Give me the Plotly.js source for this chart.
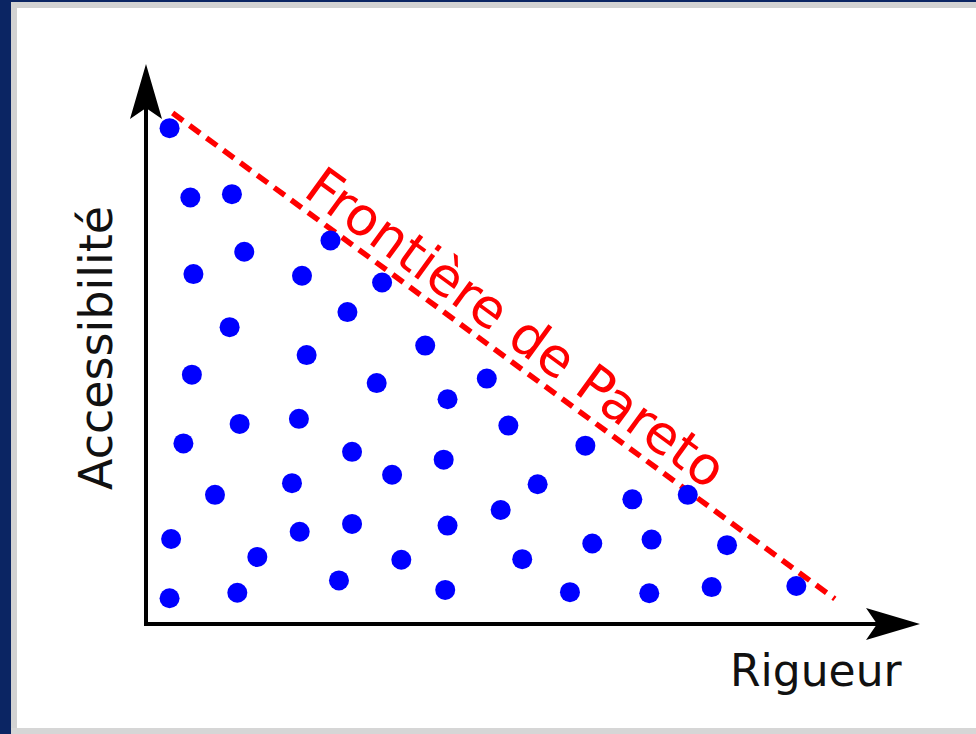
<!DOCTYPE html>
<html>
<head>
<meta charset="utf-8">
<script src="https://cdn.plot.ly/plotly-3.0.1.min.js"></script>
<style>
html,body{margin:0;padding:0;background:#ffffff;}
#wrap{position:relative;width:976px;height:734px;overflow:hidden;}
#chart{position:absolute;left:0;top:0;width:976px;height:734px;}
.b{position:absolute;pointer-events:none;}
</style>
</head>
<body>
<div id="wrap">
<div id="chart"></div>
<div class="b" style="left:11px;top:2px;width:965px;height:6px;background:#d2d2d2;"></div>
<div class="b" style="left:11px;top:2px;width:6px;height:732px;background:#d2d2d2;"></div>
<div class="b" style="left:11px;top:728px;width:965px;height:6px;background:#d6d6d6;"></div>
<div class="b" style="left:0;top:0;width:11px;height:734px;background:#0b2563;"></div>
<div class="b" style="left:0;top:0;width:976px;height:2px;background:#0b2563;"></div>
</div>
<script>
// Rigueur (x) and Accessibilité (y) of each solution, arbitrary units 0-10
const rigueur = [0.28,0.55,1.09,2.37,1.25,0.59,2.00,3.04,2.59,1.06,2.06,3.60,0.57,2.97,1.19,1.96,0.46,2.65,3.17,1.87,0.87,0.30,1.97,2.65,1.42,3.29,2.48,0.28,1.16,4.40,3.89,4.68,5.68,3.84,5.06,6.29,7.01,4.58,3.89,5.77,6.54,7.52,4.86,3.86,5.48,6.51,7.32,8.42];
const accessibilite = [8.87,7.63,7.69,6.86,6.66,6.26,6.23,6.11,5.58,5.31,4.81,4.98,4.46,4.31,3.58,3.67,3.23,3.08,2.67,2.52,2.31,1.52,1.65,1.79,1.20,1.15,0.78,0.46,0.56,4.39,4.02,3.55,3.19,2.94,2.50,2.23,2.31,2.04,1.76,1.44,1.51,1.41,1.16,0.61,0.57,0.55,0.66,0.68];
// Pareto frontier endpoints
const frontX = [0.32, 8.92];
const frontY = [9.14, 0.45];
const labelX = "Rigueur";
const labelY = "Accessibilité";
const labelFront = "Frontière de Pareto";

const W = 976, H = 734, L = 148, R = 58, T = 65, B = 110;
const pw = W - L - R, ph = H - T - B;
const px = v => (v - L) / pw;          // pixel x -> paper x
const py = v => (H - B - v) / ph;      // pixel y -> paper y
const P = (x, y) => px(x).toFixed(4) + ',' + py(y).toFixed(4);

const traces = [
  {x: frontX, y: frontY, mode: 'lines', type: 'scatter',
   line: {color: '#ff0000', width: 5.5, dash: '13px,8px'}, hoverinfo: 'skip'},
  {x: rigueur, y: accessibilite, mode: 'markers', type: 'scatter',
   marker: {color: '#0000ff', size: 20, line: {width: 0}}, hoverinfo: 'skip'}
];

const shapes = [
  {type: 'line', xref: 'paper', yref: 'paper', x0: px(146), y0: py(626), x1: px(146), y1: py(105),
   line: {color: '#000', width: 4}},
  {type: 'line', xref: 'paper', yref: 'paper', x0: px(144), y0: py(624), x1: px(880), y1: py(624),
   line: {color: '#000', width: 4}},
  {type: 'path', xref: 'paper', yref: 'paper', fillcolor: '#000', line: {width: 0},
   path: 'M' + P(146, 64) + ' L' + P(162, 119) + ' L' + P(146, 108) + ' L' + P(130, 119) + ' Z'},
  {type: 'path', xref: 'paper', yref: 'paper', fillcolor: '#000', line: {width: 0},
   path: 'M' + P(920, 624) + ' L' + P(866, 640) + ' L' + P(877, 624) + ' L' + P(866, 608) + ' Z'}
];

const font = 'DejaVu Sans, Verdana, sans-serif';
const annotations = [
  {xref: 'paper', yref: 'paper', x: px(816), y: py(670), text: labelX, showarrow: false,
   xanchor: 'center', yanchor: 'middle', font: {family: font, size: 44, color: '#111'}},
  {xref: 'paper', yref: 'paper', x: px(96), y: py(348), text: labelY, showarrow: false, textangle: -90,
   xanchor: 'center', yanchor: 'middle', font: {family: font, size: 46, color: '#111'}},
  {xref: 'paper', yref: 'paper', x: px(516), y: py(327), text: labelFront, showarrow: false, textangle: 36,
   xanchor: 'center', yanchor: 'middle', font: {family: font, size: 53, color: '#ff0000'}}
];

const layout = {
  width: W, height: H,
  margin: {l: L, r: R, t: T, b: B, pad: 0},
  paper_bgcolor: '#ffffff', plot_bgcolor: '#ffffff',
  showlegend: false,
  xaxis: {range: [0, 10], visible: false, fixedrange: true},
  yaxis: {range: [0, 10], visible: false, fixedrange: true},
  shapes: shapes, annotations: annotations
};

Plotly.newPlot('chart', traces, layout, {staticPlot: true, displayModeBar: false});
</script>
</body>
</html>
